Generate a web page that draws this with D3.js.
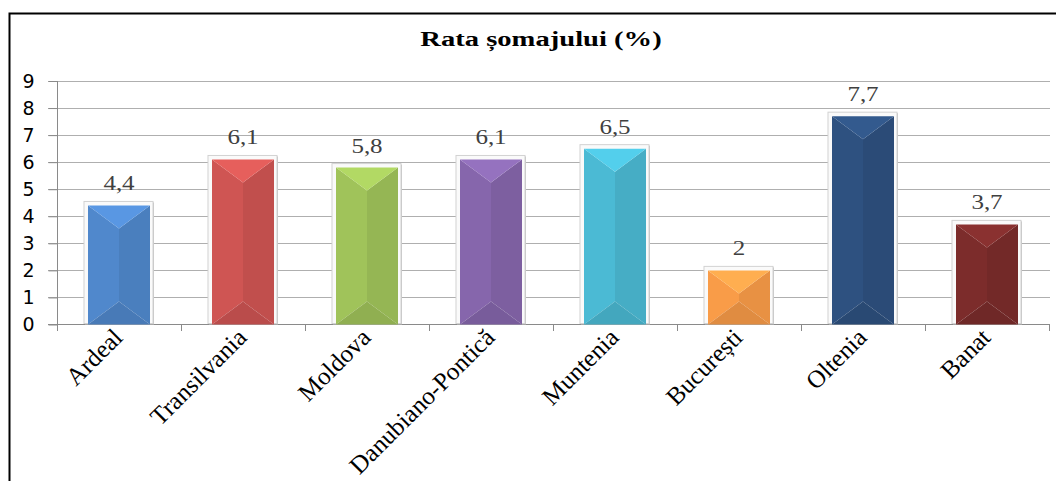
<!DOCTYPE html>
<html><head><meta charset="utf-8">
<script src="https://cdn.jsdelivr.net/npm/d3@7/dist/d3.min.js"></script>
<style>html,body{margin:0;padding:0;background:#fff;}svg{display:block;}</style>
</head><body>
<svg id="c" width="1056" height="481"></svg>
<script>
const categories = ["Ardeal","Transilvania","Moldova","Danubiano-Pontică","Muntenia","București","Oltenia","Banat"];
const values = [4.4, 6.1, 5.8, 6.1, 6.5, 2, 7.7, 3.7];
const valueLabels = ["4,4","6,1","5,8","6,1","6,5","2","7,7","3,7"];
const barColors = ["#5088CC","#CF5553","#A0C35A","#8666AC","#4BBAD4","#F99C48","#2E5180","#7C2C2B"];
const yTicks = [0,1,2,3,4,5,6,7,8,9];
const title = "Rata șomajului (%)";

const svg = d3.select("#c");
// outer frame
svg.append("path").attr("d","M9.5,481 L9.5,13.5 L1056,13.5").attr("fill","none").attr("stroke","#000").attr("stroke-width",2);

const x = d3.scaleBand().domain(categories).range([57, 1049]).paddingInner(0.5).paddingOuter(0.25);
const y = d3.scaleLinear().domain([0, 9]).range([324.5, 81]);

// gridlines
svg.append("g").selectAll("line").data(yTicks.filter(d=>d>0)).join("line")
  .attr("x1",48).attr("x2",1050).attr("y1",d=>Math.round(y(d))+0.5).attr("y2",d=>Math.round(y(d))+0.5)
  .attr("stroke","#AFAFAF").attr("stroke-width",1.2);

// y axis
const yAxis = svg.append("g").attr("transform","translate(57.5,0)")
  .call(d3.axisLeft(y).tickValues(yTicks).tickSize(9).tickPadding(14).tickFormat(d3.format("d")));
yAxis.select(".domain").attr("stroke","#8A8A8A").attr("d","M0,81V324.5");
yAxis.selectAll(".tick line").attr("stroke","#8A8A8A");
yAxis.selectAll("text").attr("font-family","DejaVu Sans").attr("font-size",19).attr("fill","#000");

// x axis
const step = x.step();
const bounds = d3.range(categories.length+1).map(i => 57 + i*step);
svg.append("line").attr("x1",48).attr("x2",1050).attr("y1",324.5).attr("y2",324.5).attr("stroke","#8A8A8A");
svg.append("g").selectAll("line").data(bounds).join("line")
  .attr("x1",d=>Math.round(d)+0.5).attr("x2",d=>Math.round(d)+0.5).attr("y1",324.5).attr("y2",331)
  .attr("stroke","#8A8A8A");

svg.append("g").selectAll("text").data(categories).join("text")
  .attr("transform",d=>`translate(${x(d)+x.bandwidth()/2+5},339) rotate(-45)`)
  .attr("text-anchor","end").attr("font-family","Liberation Serif").attr("font-size",25).attr("fill","#000")
  .text(d=>d);

// bars
const bw = x.bandwidth();
const g = svg.append("g");
categories.forEach((c,i)=>{
  const x0 = x(c), x1 = x0 + bw, y0 = y(values[i]), y1 = y(0), cx = x0 + bw/2;
  const base = d3.color(barColors[i]);
  const d = Math.min(23, (y1-y0)/2);
  g.append("rect").attr("x",x0-3).attr("y",y0-3).attr("width",bw+7).attr("height",y1-y0+3)
    .attr("fill","#C4C4C4");
  g.append("rect").attr("x",x0-4).attr("y",y0-4).attr("width",bw+7).attr("height",y1-y0+3)
    .attr("fill","#FAFAFA").attr("stroke","#D2D2D2").attr("stroke-width",1);
  const left = base.copy(), right = base.darker(0.2), top = base.brighter(0.3), bot = base.darker(0.3);
  g.append("path").attr("d",`M${x0},${y0}L${cx},${y0+d}L${cx},${y1-d}L${x0},${y1}Z`).attr("fill",left);
  g.append("path").attr("d",`M${x1},${y0}L${cx},${y0+d}L${cx},${y1-d}L${x1},${y1}Z`).attr("fill",right);
  g.append("path").attr("d",`M${x0},${y0}L${x1},${y0}L${cx},${y0+d}Z`).attr("fill",top);
  g.append("path").attr("d",`M${x0},${y1}L${x1},${y1}L${cx},${y1-d}Z`).attr("fill",bot);
});

// value labels (slightly widened like the reference)
svg.append("g").selectAll("text").data(categories).join("text")
  .attr("transform",(d,i)=>`translate(${x(d)+bw/2},${y(values[i])-15}) scale(1.25,1)`)
  .attr("text-anchor","middle").attr("font-family","Liberation Serif").attr("font-size",20).attr("fill","#404040")
  .text((d,i)=>valueLabels[i]);

// title
svg.append("text").attr("transform","translate(541,46) scale(1.3,1)").attr("text-anchor","middle")
  .attr("font-family","Liberation Serif").attr("font-weight","bold").attr("font-size",22).attr("fill","#000")
  .text(title);
</script>
</body></html>
